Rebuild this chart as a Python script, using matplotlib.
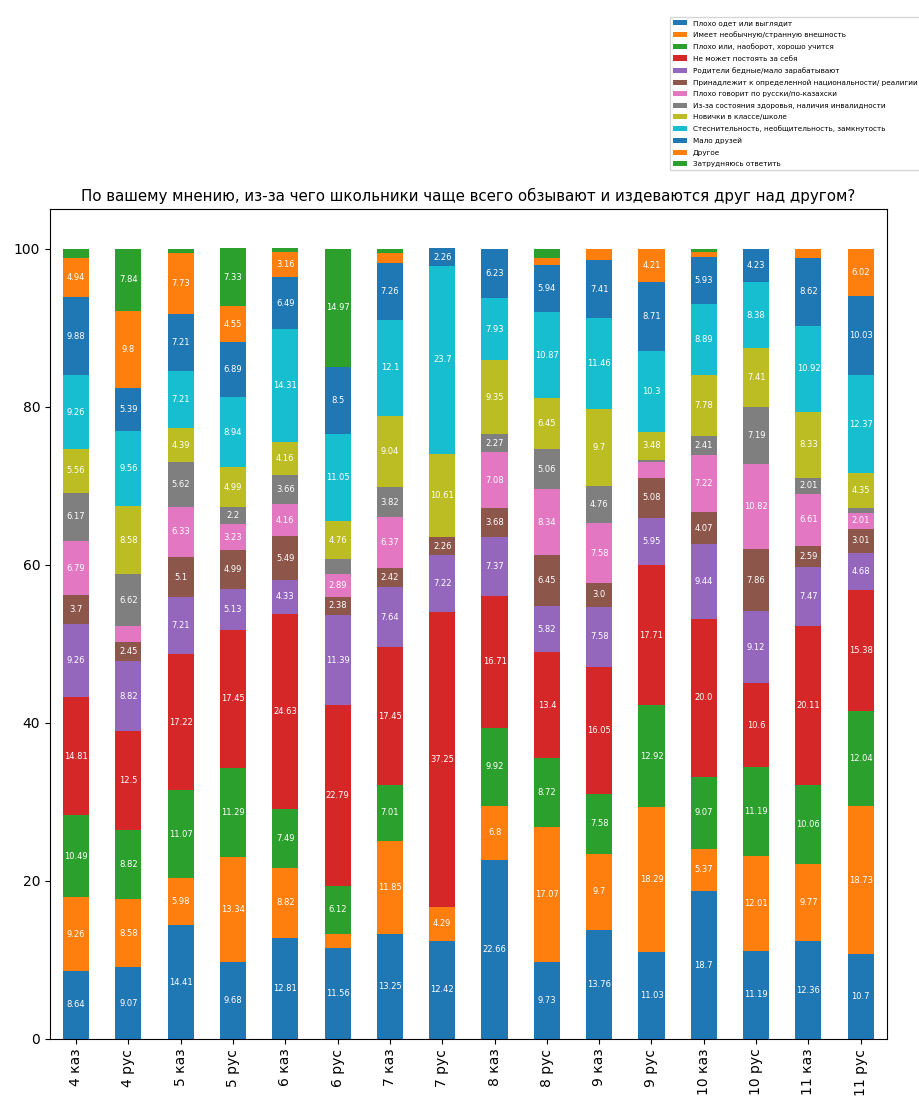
import numpy as np
import matplotlib.pyplot as plt

groups = ["4 каз", "4 рус", "5 каз", "5 рус", "6 каз", "6 рус", "7 каз", "7 рус",
          "8 каз", "8 рус", "9 каз", "9 рус", "10 каз", "10 рус", "11 каз", "11 рус"]

categories = [
    "Плохо одет или выглядит",
    "Имеет необычную/странную внешность",
    "Плохо или, наоборот, хорошо учится",
    "Не может постоять за себя",
    "Родители бедные/мало зарабатывают",
    "Принадлежит к определенной национальности/ реалигии",
    "Плохо говорит по русски/по-казахски",
    "Из-за состояния здоровья, наличия инвалидности",
    "Новички в классе/школе",
    "Стеснительность, необщительность, замкнутость",
    "Мало друзей",
    "Другое",
    "Затрудняюсь ответить",
]

# values per category, one per group (percent)
bad_clothes = [8.64, 9.07, 14.41, 9.68, 12.81, 11.56, 13.25, 12.42, 22.66, 9.73, 13.76, 11.03, 18.7, 11.19, 12.36, 10.7]
strange_look = [9.26, 8.58, 5.98, 13.34, 8.82, 1.73, 11.85, 4.29, 6.8, 17.07, 9.7, 18.29, 5.37, 12.01, 9.77, 18.73]
study = [10.49, 8.82, 11.07, 11.29, 7.49, 6.12, 7.01, 0, 9.92, 8.72, 7.58, 12.92, 9.07, 11.19, 10.06, 12.04]
weak = [14.81, 12.5, 17.22, 17.45, 24.63, 22.79, 17.45, 37.25, 16.71, 13.4, 16.05, 17.71, 20.0, 10.6, 20.11, 15.38]
poor_parents = [9.26, 8.82, 7.21, 5.13, 4.33, 11.39, 7.64, 7.22, 7.37, 5.82, 7.58, 5.95, 9.44, 9.12, 7.47, 4.68]
nationality = [3.7, 2.45, 5.1, 4.99, 5.49, 2.38, 2.42, 2.26, 3.68, 6.45, 3.0, 5.08, 4.07, 7.86, 2.59, 3.01]
language = [6.79, 1.96, 6.33, 3.23, 4.16, 2.89, 6.37, 0, 7.08, 8.34, 7.58, 1.98, 7.22, 10.82, 6.61, 2.01]
health = [6.17, 6.62, 5.62, 2.2, 3.66, 1.86, 3.82, 0, 2.27, 5.06, 4.76, 0.34, 2.41, 7.19, 2.01, 0.67]
newcomers = [5.56, 8.58, 4.39, 4.99, 4.16, 4.76, 9.04, 10.61, 9.35, 6.45, 9.7, 3.48, 7.78, 7.41, 8.33, 4.35]
shy = [9.26, 9.56, 7.21, 8.94, 14.31, 11.05, 12.1, 23.7, 7.93, 10.87, 11.46, 10.3, 8.89, 8.38, 10.92, 12.37]
few_friends = [9.88, 5.39, 7.21, 6.89, 6.49, 8.5, 7.26, 2.26, 6.23, 5.94, 7.41, 8.71, 5.93, 4.23, 8.62, 10.03]
other = [4.94, 9.8, 7.73, 4.55, 3.16, 0, 1.27, 0, 0, 1.0, 1.42, 4.21, 0.7, 0, 1.15, 6.02]
no_answer = [1.24, 7.84, 0.52, 7.33, 0.5, 14.97, 0.52, 0, 0, 1.15, 0, 0, 0.42, 0, 0, 0]

series = [bad_clothes, strange_look, study, weak, poor_parents, nationality, language,
          health, newcomers, shy, few_friends, other, no_answer]

colors = plt.rcParams["axes.prop_cycle"].by_key()["color"]

fig = plt.figure(figsize=(9.2, 10.97), dpi=100)
ax = fig.add_axes([0.0543, 0.0529, 0.9097, 0.7566])

x = np.arange(len(groups))
bottom = np.zeros(len(groups))
handles = []
for i, (name, vals) in enumerate(zip(categories, series)):
    vals = np.array(vals, dtype=float)
    bars = ax.bar(x, vals, 0.5, bottom=bottom, color=colors[i % len(colors)], label=name)
    handles.append(bars)
    labels = [str(v) if v >= 2 else "" for v in vals]
    ax.bar_label(bars, labels=labels, label_type="center", color="white", fontsize=6)
    bottom += vals

ax.set_xlim(-0.5, len(groups) - 0.5)
ax.set_ylim(0, 105)
ax.set_xticks(x)
ax.set_xticklabels(groups, rotation=90, fontsize=10)
ax.set_title("По вашему мнению, из-за чего школьники чаще всего обзывают и издеваются друг над другом?",
             fontsize=10.8)

fig.legend(handles=handles, loc="upper left", bbox_to_anchor=(666 / 920, 1 - 13 / 1097),
           fontsize=5.2, labelspacing=0.75)

fig.savefig("out.png", dpi=100)
